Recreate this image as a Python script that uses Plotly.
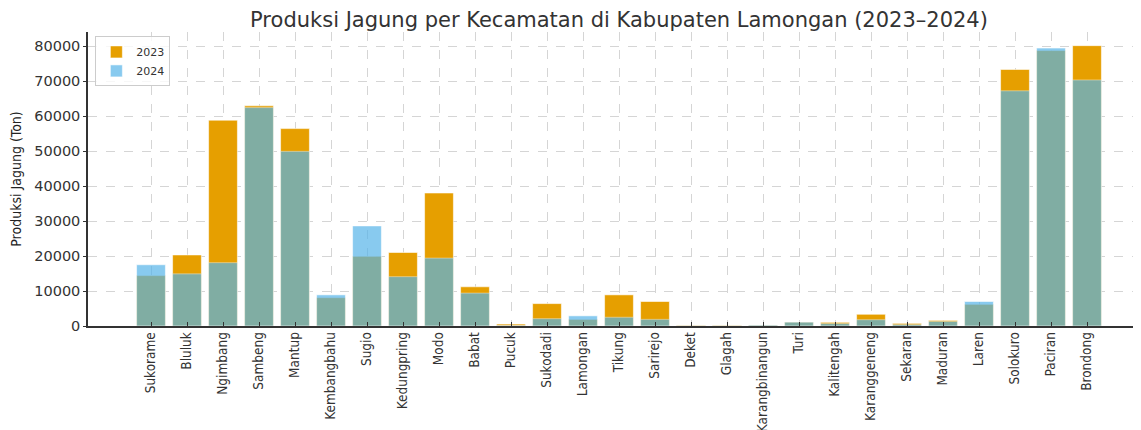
import plotly.graph_objects as go

kecamatan = ["Sukorame", "Bluluk", "Ngimbang", "Sambeng", "Mantup", "Kembangbahu", "Sugio",
             "Kedungpring", "Modo", "Babat", "Pucuk", "Sukodadi", "Lamongan", "Tikung", "Sarirejo",
             "Deket", "Glagah", "Karangbinangun", "Turi", "Kalitengah", "Karanggeneng", "Sekaran",
             "Maduran", "Laren", "Solokuro", "Paciran", "Brondong"]
prod_2023 = [14400, 20300, 58800, 62900, 56400, 8100, 19900, 21000, 38000, 11200, 550, 6400, 1900,
             8900, 7000, 200, 200, 250, 1100, 1050, 3350, 750, 1600, 6200, 73300, 78700, 80100]
prod_2024 = [17500, 14900, 18100, 62400, 49900, 8900, 28600, 14100, 19400, 9400, 150, 2100, 2900,
             2500, 1900, 50, 50, 250, 1100, 700, 1800, 400, 1300, 7000, 67200, 79400, 70300]
yticks = [0, 10000, 20000, 30000, 40000, 50000, 60000, 70000, 80000]

fig = go.Figure()
fig.add_trace(go.Bar(x=kecamatan, y=prod_2023, name="2023",
                     marker=dict(color="#E69F00", line=dict(color="rgba(255,255,255,0.7)", width=0.8)),
                     width=0.8))
fig.add_trace(go.Bar(x=kecamatan, y=prod_2024, name="2024", opacity=0.7,
                     marker=dict(color="#56B4E9", line=dict(color="rgba(255,255,255,0.7)", width=0.8)),
                     width=0.8))

fig.update_layout(
    width=1133, height=422, autosize=False,
    barmode="overlay",
    paper_bgcolor="white", plot_bgcolor="white",
    margin=dict(l=80, r=0, t=24, b=104, autoexpand=False),
    title=dict(text="Produksi Jagung per Kecamatan di Kabupaten Lamongan (2023–2024)",
               x=611 / 1133, xref="container", xanchor="center",
               y=1 - 12 / 422, yref="container", yanchor="middle",
               font=dict(family="DejaVu Sans", size=21, color="#333333")),
    legend=dict(x=0.007, y=0.985, xanchor="left", yanchor="top",
                bgcolor="rgba(255,255,255,0.8)", bordercolor="#cccccc", borderwidth=1,
                font=dict(family="DejaVu Sans", size=11, color="#333333"),
                tracegroupgap=0, itemwidth=30),
    showlegend=True,
)
fig.update_xaxes(
    type="category", range=[-1.75, 27.5], automargin=False,
    showgrid=True, gridcolor="#d5d5d5", gridwidth=0.8, griddash="dash",
    showline=True, linecolor="#333333", linewidth=1.5,
    ticks="inside", ticklen=4, tickcolor="#333333",
    tickangle=-90, ticklabelstandoff=-1,
    tickfont=dict(family="DejaVu Sans Condensed", size=13.5, color="#333333"),
)
fig.update_yaxes(
    range=[0, 84000], tickvals=yticks, ticktext=[str(v) for v in yticks], automargin=False,
    showgrid=True, gridcolor="#d5d5d5", gridwidth=0.8, griddash="dash",
    zeroline=False,
    showline=True, linecolor="#333333", linewidth=1.5,
    ticks="outside", ticklen=3, tickcolor="#333333",
    tickfont=dict(family="DejaVu Sans", size=14.5, color="#333333"),
    title=dict(text="Produksi Jagung (Ton)", standoff=12,
               font=dict(family="DejaVu Sans Condensed", size=14, color="#222222")),
)

fig.write_html("out.html")
